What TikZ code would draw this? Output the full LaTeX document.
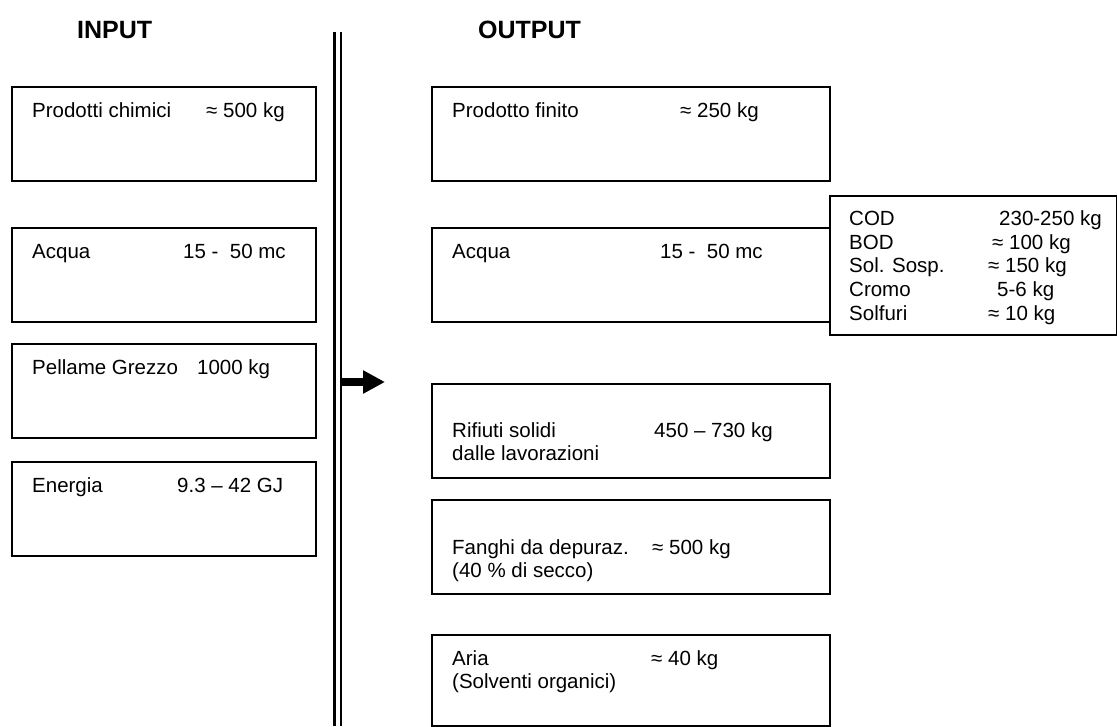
\documentclass[tikz,border=0pt]{standalone}
\usepackage{fontspec}
\setmainfont{Liberation Sans}
\usetikzlibrary{arrows.meta}
\begin{document}
\begin{tikzpicture}[x=1pt,y=-1pt,
  box/.style={draw, line width=2pt, rectangle, anchor=north west, inner sep=0pt},
  inbox/.style={box, minimum width=304pt, minimum height=94pt},
  outbox/.style={box, minimum width=398pt, minimum height=94pt},
  txt/.style={anchor=base west, inner sep=0pt, font=\fontsize{20.5}{23.5}\selectfont},
  title/.style={anchor=base west, inner sep=0pt, font=\fontsize{25}{30}\selectfont\bfseries},
  sep/.style={line width=2.6pt}]
\useasboundingbox (0,0) rectangle (1117,726);
% titles
\node[title] (tin) at (77,38) {INPUT};
\node[title] (tout) at (478,38) {OUTPUT};
% separator
\coordinate (s1t) at (334.5,32); \coordinate (s1b) at (334.5,726);
\coordinate (s2t) at (341,32); \coordinate (s2b) at (341,726);
\draw[sep] (s1t) -- (s1b);
\draw[sep] (s2t) -- (s2b);
% arrow
\coordinate (as) at (340,382); \coordinate (ae) at (385,382);
\draw[line width=8pt, -{Triangle[length=22pt,width=22pt]}] (as) -- (ae);
% input boxes
\node[inbox] (in1) at (11,86) {};
\node[inbox] (in2) at (11,227) {};
\node[inbox] (in3) at (11,343) {};
\node[inbox] (in4) at (11,461) {};
\node[txt] (in1a) at (32,117) {Prodotti chimici};
\node[txt] (in1b) at (206,117) {≈ 500 kg};
\node[txt] (in2a) at (32,258) {Acqua};
\node[txt] (in2b) at (183,258) {15 -\ \ 50 mc};
\node[txt] (in3a) at (32,374) {Pellame Grezzo};
\node[txt] (in3b) at (197,374) {1000 kg};
\node[txt] (in4a) at (32,492) {Energia};
\node[txt] (in4b) at (177,492) {9.3 – 42 GJ};
% output boxes
\node[outbox] (out1) at (431,86) {};
\node[outbox] (out2) at (431,227) {};
\node[outbox] (out3) at (431,383) {};
\node[outbox] (out4) at (431,499) {};
\node[box, minimum width=398pt, minimum height=91pt] (out5) at (431,634) {};
\node[txt] (out1a) at (452,117) {Prodotto finito};
\node[txt] (out1b) at (680,117) {≈ 250 kg};
\node[txt] (out2a) at (452,258) {Acqua};
\node[txt] (out2b) at (660,258) {15 -\ \ 50 mc};
\node[txt] (out3a) at (452,437) {Rifiuti solidi};
\node[txt] (out3b) at (452,460) {dalle lavorazioni};
\node[txt] (out3c) at (654,437) {450 – 730 kg};
\node[txt] (out4a) at (452,554) {Fanghi da depuraz.};
\node[txt] (out4b) at (452,577) {(40 \% di secco)};
\node[txt] (out4c) at (652,554) {≈ 500 kg};
\node[txt] (out5a) at (452,665) {Aria};
\node[txt] (out5b) at (452,688) {(Solventi organici)};
\node[txt] (out5c) at (651,665) {≈ 40 kg};
% water detail box
\node[box, minimum width=287pt, minimum height=139pt, fill=white] (det) at (829,195) {};
\node[txt] (d1a) at (849,225) {COD};
\node[txt] (d1b) at (999,225) {230-250 kg};
\node[txt] (d2a) at (849,249) {BOD};
\node[txt] (d2b) at (992,249) {≈ 100 kg};
\node[txt] (d3a) at (849,272) {Sol. Sosp.};
\node[txt] (d3b) at (988,272) {≈ 150 kg};
\node[txt] (d4a) at (849,296) {Cromo};
\node[txt] (d4b) at (997,296) {5-6 kg};
\node[txt] (d5a) at (849,320) {Solfuri};
\node[txt] (d5b) at (988,320) {≈ 10 kg};
\end{tikzpicture}
\end{document}
